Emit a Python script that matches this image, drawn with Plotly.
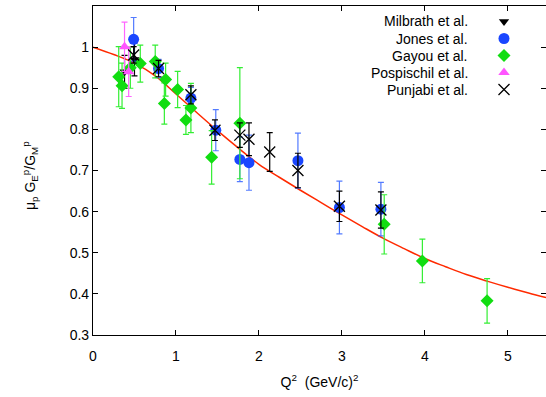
import plotly.graph_objects as go

# ---------------- data ----------------
series_names = ["Milbrath et al.", "Jones et al.", "Gayou et al.", "Pospischil et al.", "Punjabi et al."]

milbrath_q2 = [0.38, 0.50]
milbrath_r = [0.94, 0.97]
milbrath_err = [0.04, 0.04]

jones_q2 = [0.49, 0.79, 1.18, 1.48, 1.77, 1.88, 2.47, 2.97, 3.47]
jones_r = [1.019, 0.948, 0.876, 0.798, 0.727, 0.719, 0.724, 0.610, 0.606]
jones_err = [0.053, 0.022, 0.026, 0.05, 0.054, 0.067, 0.067, 0.064, 0.065]

gayou_q2 = [0.31, 0.35, 0.45, 0.57, 0.75, 0.86, 0.875, 1.02, 1.12, 1.18, 1.43, 1.77, 3.51, 3.97, 4.75]
gayou_r = [0.928, 0.906, 0.95, 0.960, 0.965, 0.863, 0.921, 0.897, 0.823, 0.852, 0.732, 0.815, 0.569, 0.480, 0.383]
gayou_err = [0.073, 0.055, 0.05, 0.045, 0.04, 0.05, 0.04, 0.044, 0.035, 0.06, 0.065, 0.135, 0.072, 0.053, 0.054]

pospischil_q2 = [0.38, 0.43]
pospischil_r = [1.001, 0.94]
pospischil_err = [0.06, 0.06]

punjabi_q2 = [0.49, 0.79, 1.18, 1.47, 1.77, 1.88, 2.13, 2.47, 2.97, 3.47]
punjabi_r = [0.981, 0.948, 0.884, 0.798, 0.786, 0.776, 0.745, 0.700, 0.613, 0.604]
punjabi_err = [0.02, 0.02, 0.022, 0.025, 0.03, 0.04, 0.047, 0.042, 0.037, 0.044]

fit_q2 = [0.0, 0.25, 0.5, 0.75, 1.0, 1.25, 1.5, 1.75, 2.0, 2.25, 2.5, 2.75, 3.0,
          3.25, 3.5, 3.75, 4.0, 4.25, 4.5, 4.75, 5.0, 5.25, 5.46]
fit_r = [1.0, 0.982, 0.961, 0.930, 0.886, 0.841, 0.797, 0.755, 0.715, 0.683, 0.652,
         0.622, 0.592, 0.563, 0.535, 0.510, 0.486, 0.466, 0.447, 0.431, 0.416, 0.402, 0.391]

x_ticks = [0, 1, 2, 3, 4, 5]
x_labels = ["0", "1", "2", "3", "4", "5"]
y_ticks = [0.3, 0.4, 0.5, 0.6, 0.7, 0.8, 0.9, 1.0, 1.1]
y_labels = ["0.3", "0.4", "0.5", "0.6", "0.7", "0.8", "0.9", "1", "1.1"]

x_title = "Q<sup>2</sup>  (GeV/c)<sup>2</sup>"
y_title = "μ<sub>p</sub> G<sub>E</sub><sup>p</sup>/G<sub>M</sub><sup>p</sup>"

# ---------------- figure ----------------
FONT = "Liberation Sans, Arial, Helvetica, sans-serif"
L, R, T, B = 93, 0, 6, 62
W, H = 546, 397
pw, ph = W - L - R, H - T - B
legend_y_px = [21.5, 38.5, 55.5, 72.5, 89.5]
legend_ids = ["legend", "legend2", "legend3", "legend4", "legend5"]

fig = go.Figure()

fig.add_trace(go.Scatter(
    x=fit_q2, y=fit_r, mode="lines", line=dict(color="#ff2a00", width=1.5, shape="spline"),
    showlegend=False, hoverinfo="skip"))


def add_series(idx, xs, ys, es, symbol, color, ecolor, size, lw=0):
    fig.add_trace(go.Scatter(
        x=xs, y=ys, mode="markers", name="\u200b", legend=legend_ids[idx],
        error_y=dict(type="data", array=es, color=ecolor, thickness=1.2, width=3),
        marker=dict(symbol=symbol, color=color, size=size,
                    line=dict(color=color, width=lw)),
        hovertext=series_names[idx]))


add_series(0, milbrath_q2, milbrath_r, milbrath_err, "triangle-down", "black", "black", 9)
add_series(1, jones_q2, jones_r, jones_err, "circle", "#1a46ff", "rgba(40,90,255,0.8)", 11)
add_series(2, gayou_q2, gayou_r, gayou_err, "diamond", "#11dd11", "#33ee33", 10)
add_series(3, pospischil_q2, pospischil_r, pospischil_err, "triangle-up", "#ff55ff", "#ff66ff", 10)
add_series(4, punjabi_q2, punjabi_r, punjabi_err, "x-thin", "black", "black", 11, lw=1.3)

# legend text placed to the left of the symbols (gnuplot style)
legend_layout = {}
for nm, ypx, lid in zip(series_names, legend_y_px, legend_ids):
    fig.add_annotation(
        x=(470 - L) / pw, y=1 - (ypx - T) / ph, xref="paper", yref="paper",
        text=nm, showarrow=False, xanchor="right", yanchor="middle",
        font=dict(family=FONT, size=14, color="black"))
    legend_layout[lid] = dict(
        x=(484 - L) / pw, y=1 - (ypx - T) / ph, xanchor="left", yanchor="middle",
        bgcolor="rgba(0,0,0,0)", borderwidth=0, font=dict(size=10),
        tracegroupgap=0, itemwidth=30)

# y-axis title (rotated), positioned like the reference
fig.add_annotation(
    x=(30 - L) / pw, y=1 - (176 - T) / ph, xref="paper", yref="paper",
    text=y_title, showarrow=False, textangle=-90, xanchor="center", yanchor="middle",
    font=dict(family=FONT, size=14, color="black"))

axis_common = dict(
    showline=True, linecolor="black", linewidth=1.2, mirror="allticks",
    ticks="inside", ticklen=5, tickcolor="black", tickwidth=1,
    showgrid=False, zeroline=False, automargin=False,
    tickfont=dict(family=FONT, size=14, color="black"))

fig.update_xaxes(range=[0, 5.46], tickvals=x_ticks, ticktext=x_labels, ticklabelstandoff=8,
                 title=dict(text=x_title, font=dict(family=FONT, size=14, color="black"), standoff=14),
                 **axis_common)
fig.update_yaxes(range=[0.3, 1.1], tickvals=y_ticks, ticktext=y_labels, **axis_common)

fig.update_layout(
    width=W, height=H,
    margin=dict(l=L, r=R, t=T, b=B, pad=0, autoexpand=False),
    paper_bgcolor="white", plot_bgcolor="white",
    font=dict(family=FONT, size=14, color="black"),
    showlegend=True,
    **legend_layout,
)

fig.write_html("out.html", config={"displayModeBar": False},
               post_script="document.body.style.margin='0';")
